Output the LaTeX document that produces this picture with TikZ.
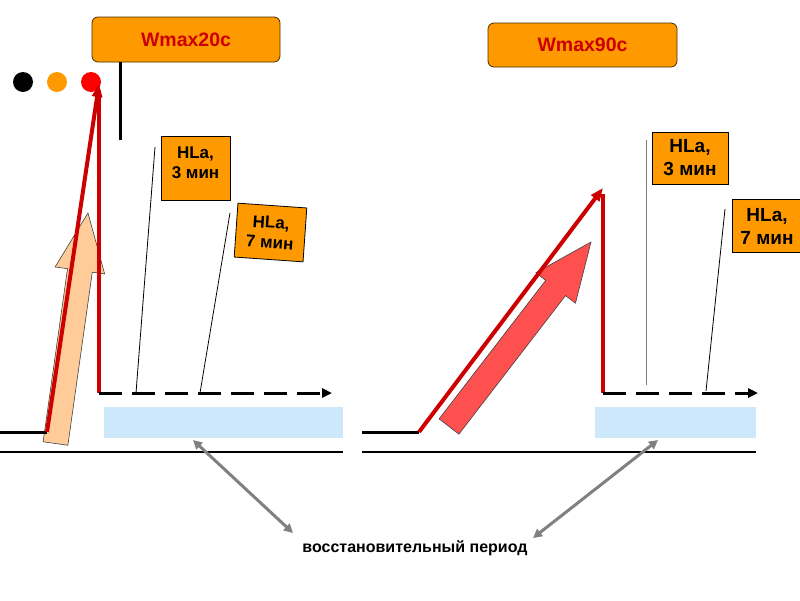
\documentclass[tikz,border=0pt]{standalone}
\usepackage{fontspec}
\setmainfont{Liberation Sans}
\usetikzlibrary{arrows.meta,calc}
\definecolor{orng}{HTML}{FF9900}
\definecolor{dred}{HTML}{CC0000}
\definecolor{peach}{HTML}{FFCC99}
\definecolor{lred}{HTML}{FF5050}
\definecolor{lblue}{HTML}{CCE8FA}
\definecolor{gry}{HTML}{808080}
\newcommand\blkarrow[3]{%
  \coordinate (ba-b) at #1;
  \coordinate (ba-t) at #2;
  \coordinate (ba-h) at ($(ba-t)!58pt!(ba-b)$);
  \draw[fill=#3, draw=black!75, line width=0.6pt]
    ($(ba-b)!12.5pt!90:(ba-t)$) -- ($(ba-h)!12.5pt!90:(ba-t)$) -- ($(ba-h)!25pt!90:(ba-t)$)
    -- (ba-t) -- ($(ba-h)!25pt!-90:(ba-t)$) -- ($(ba-h)!12.5pt!-90:(ba-t)$)
    -- ($(ba-b)!12.5pt!-90:(ba-t)$) -- cycle;
}
\begin{document}
\begin{tikzpicture}[x=1pt,y=-1pt,
  wbox/.style={draw=black!70!orng, fill=orng, rounded corners=6pt, line width=0.8pt,
    text=dred, font=\bfseries\fontsize{19.5}{22}\selectfont, inner sep=0pt},
  hboxl/.style={draw=black, fill=orng, line width=0.8pt, align=center, inner sep=0pt,
    font=\bfseries\fontsize{17}{20}\selectfont},
  htext/.style={align=center, inner sep=0pt, font=\bfseries\fontsize{17}{20}\selectfont},
  hboxr/.style={draw=black, fill=orng, line width=0.8pt, align=center, inner sep=0pt,
    font=\bfseries\fontsize{19}{23}\selectfont},
  rest/.style={fill=lblue, draw=none, inner sep=0pt, minimum height=31pt},
  dot/.style={circle, inner sep=0pt, minimum size=20pt, draw=none},
  redline/.style={draw=dred, line width=4pt},
  redarrow/.style={draw=dred, line width=4pt, -{Triangle[length=13pt,width=10pt]}, fill=dred},
  blackline/.style={draw=black, line width=3pt},
  dashline/.style={draw=black, line width=3pt, dash pattern=on 23pt off 10pt,
    -{Triangle[length=10pt,width=9pt]}},
  thinline/.style={draw=black, line width=0.8pt},
  grayline/.style={draw=gry, line width=1pt},
  twoway/.style={draw=gry, line width=3pt, {Triangle[length=9pt,width=9pt]}-{Triangle[length=9pt,width=9pt]}},
  baseline/.style={draw=black, line width=1.2pt}
]
\useasboundingbox (0,0) rectangle (800,600);

% ---------- left panel ----------
\node[wbox, minimum width=188pt, minimum height=45pt] (w20) at (186,39.5) {Wmax20c};
\coordinate (w20stem) at (120,140);
\draw[blackline] (w20.south -| w20stem) -- (w20stem);

\node[dot, fill=black] (d1) at (23,82) {};
\node[dot, fill=orng] (d2) at (57,82) {};
\node[dot, fill=red] (d3) at (91,82) {};

\node[rest, minimum width=239pt] (rl) at (223.5,422.5) {};
\draw[baseline] (0,452) -- (343,452);

\blkarrow{(55.5,443.5)}{(88,213)}{peach}

\coordinate (l0) at (0,432);
\coordinate (l1) at (47,432);
\coordinate (lpk) at (99,84);
\coordinate (lbot) at (99,393);
\coordinate (lend) at (332,393);
\draw[blackline] (l0) -- (l1);
\draw[redarrow] (l1) -- (lpk);
\draw[redline] (99,90) -- (lbot);
\draw[dashline] (lbot) -- (lend);

\node[hboxl, minimum width=69pt, minimum height=64pt] (h3l) at (195.5,168) {};
\node[htext] (h3ltxt) at (195.5,163) {HLa,\\3 мин};
\node[hboxl, minimum width=69pt, minimum height=54pt, rotate=-4] (h7l) at (270.5,232.5) {HLa,\\7 мин};
\coordinate (h3lt) at (155,147);
\coordinate (h3lb) at (136,393);
\coordinate (h7lt) at (230,213);
\coordinate (h7lb) at (200,393);
\draw[thinline] (h3lt) -- (h3lb);
\draw[thinline] (h7lt) -- (h7lb);

% ---------- right panel ----------
\node[wbox, minimum width=189pt, minimum height=44pt] (w90) at (582.5,45) {Wmax90c};

\node[rest, minimum width=161pt] (rr) at (675.5,422.5) {};
\draw[baseline] (362,452) -- (756,452);

\blkarrow{(449,426.5)}{(591,242)}{lred}

\coordinate (r0) at (362,432);
\coordinate (r1) at (419,432);
\coordinate (rpk) at (603,188);
\coordinate (rbot) at (603,393);
\coordinate (rend) at (758,393);
\draw[blackline] (r0) -- (r1);
\draw[redarrow] (r1) -- (rpk);
\draw[redline] (603,194) -- (rbot);
\draw[dashline] (rbot) -- (rend);

\node[hboxr, minimum width=76pt, minimum height=52pt] (h3r) at (690,158) {HLa,\\3 мин};
\node[hboxr, minimum width=70pt, minimum height=53pt] (h7r) at (767,226) {HLa,\\7 мин};
\coordinate (h3rt) at (646,140);
\coordinate (h3rb) at (646,385);
\coordinate (h7rt) at (725,209);
\coordinate (h7rb) at (706,391);
\draw[grayline] (h3rt) -- (h3rb);
\draw[thinline] (h7rt) -- (h7rb);

% ---------- bottom ----------
\node[font=\bfseries\fontsize{16}{19}\selectfont, inner sep=0pt] (rp) at (415,548) {восстановительный период};
\coordinate (al) at (193,440);
\coordinate (ar) at (658,440);
\coordinate (pl) at (293,533);
\coordinate (pr) at (533,538);
\draw[twoway] (al) -- (pl);
\draw[twoway] (ar) -- (pr);
\end{tikzpicture}
\end{document}
